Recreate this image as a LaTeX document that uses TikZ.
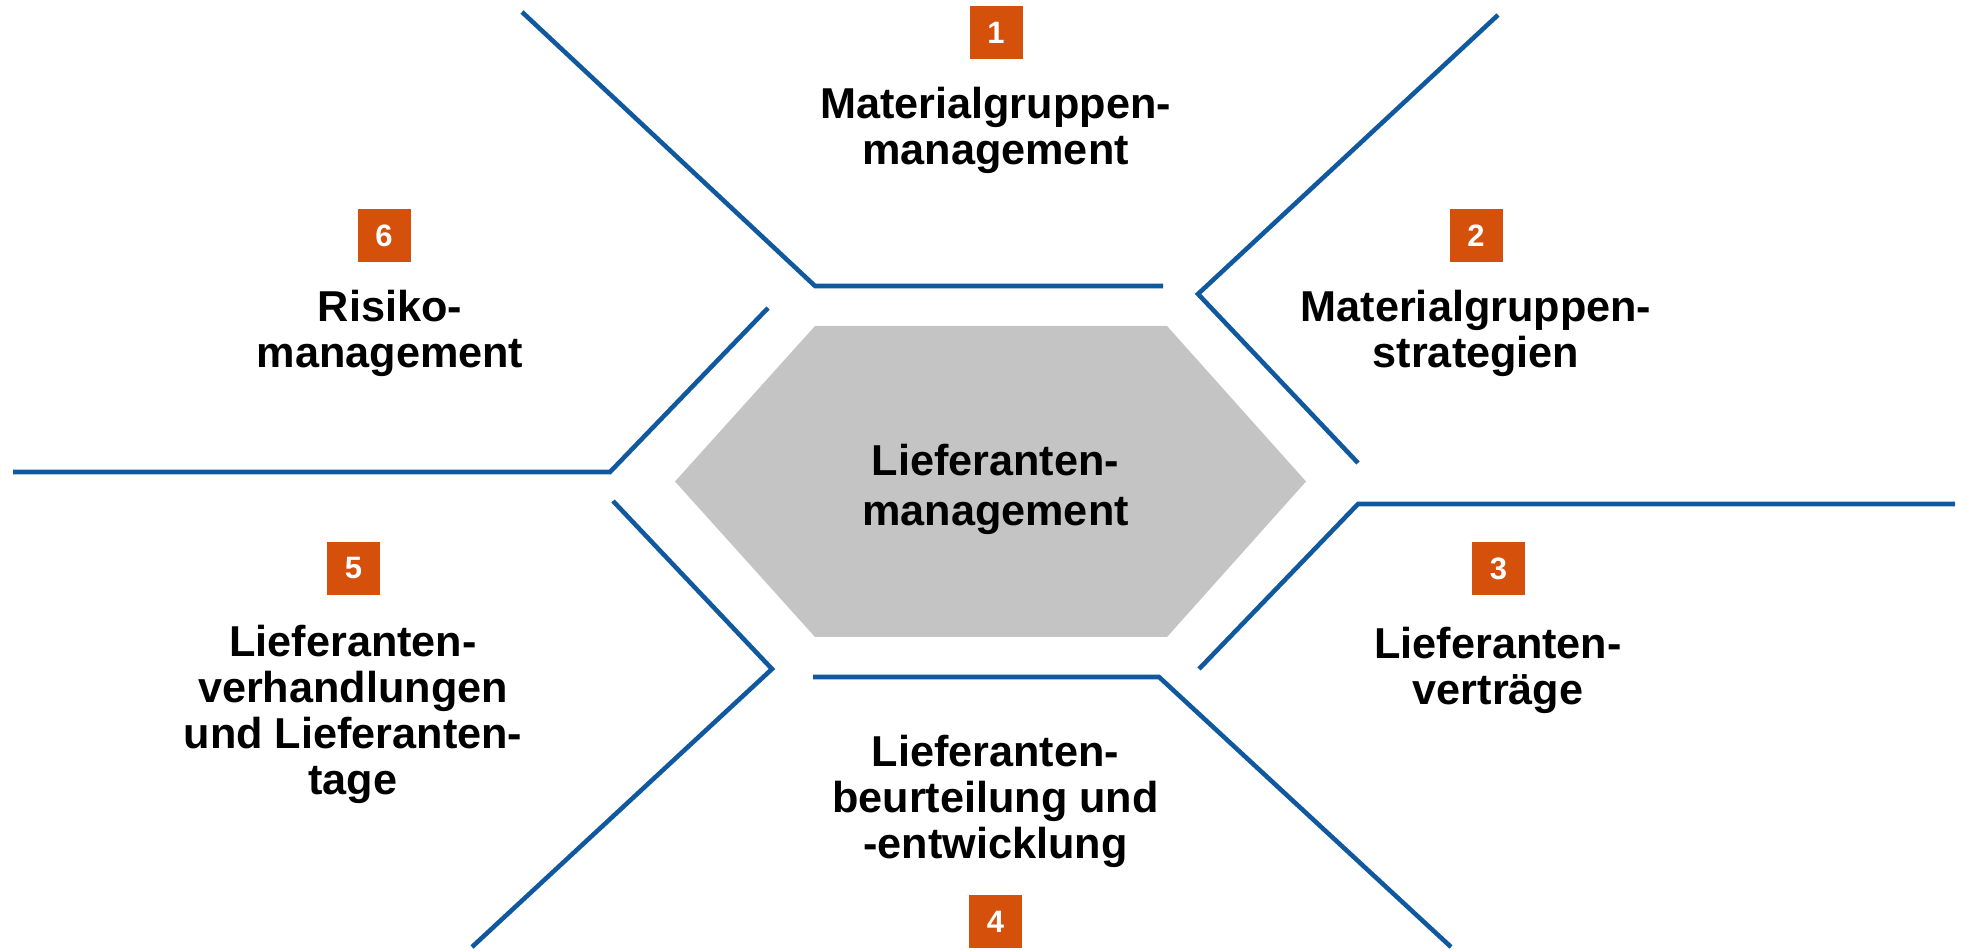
\documentclass[tikz,border=0pt]{standalone}
\usepackage{fontspec}
\setmainfont{Liberation Sans}
\usepackage{xcolor}
\usepackage{tikz}

\definecolor{lineblue}{RGB}{17,89,158}
\definecolor{numorange}{RGB}{213,80,10}
\definecolor{hexgray}{RGB}{196,196,196}

\begin{document}
\begin{tikzpicture}[
    num/.style={shape=rectangle, fill=numorange, text=white, minimum size=0.53cm, inner sep=0pt, font=\bfseries\fontsize{8.8}{10}\selectfont},
    topic/.style={align=center, font=\bfseries\fontsize{12.3}{13.1}\selectfont},
    edge/.style={lineblue, line width=1.3pt}]
    \useasboundingbox (0,0) rectangle (19.61,9.5);

    % centre hexagon
    \fill[hexgray] (6.75,4.685) -- (8.15,6.24) -- (11.67,6.24) -- (13.06,4.685) -- (11.67,3.13) -- (8.15,3.13) -- cycle;
    \node[topic, font=\bfseries\fontsize{12.3}{14.2}\selectfont] (core) at (9.955,4.61) {Lieferanten-\\management};

    % outer frame
    \draw[edge] (5.22,9.38) -- (8.15,6.64) -- (11.63,6.64);
    \draw[edge] (14.98,9.35) -- (11.98,6.56) -- (13.58,4.87);
    \draw[edge] (19.55,4.46) -- (13.58,4.46) -- (11.99,2.81);
    \draw[edge] (8.13,2.73) -- (11.59,2.73) -- (14.51,0.03);
    \draw[edge] (4.72,0.03) -- (7.72,2.81) -- (6.13,4.49);
    \draw[edge] (0.13,4.78) -- (6.10,4.78) -- (7.68,6.42);

    \node[num] (n1) at (9.96,9.175) {1};
    \node[num] (n2) at (14.76,7.145) {2};
    \node[num] (n3) at (14.985,3.815) {3};
    \node[num] (n4) at (9.955,0.285) {4};
    \node[num] (n5) at (3.535,3.815) {5};
    \node[num] (n6) at (3.84,7.145) {6};

    \node[topic] (t1) at (9.955,8.20) {Materialgruppen-\\management};
    \node[topic] (t2) at (14.76,6.17) {Materialgruppen-\\strategien};
    \node[topic] (t3) at (14.98,2.80) {Lieferanten-\\verträge};
    \node[topic] (t4) at (9.955,1.49) {Lieferanten-\\beurteilung und\\-entwicklung};
    \node[topic] (t5) at (3.53,2.36) {Lieferanten-\\verhandlungen\\und Lieferanten-\\tage};
    \node[topic] (t6) at (3.90,6.17) {Risiko-\\management};
\end{tikzpicture}
\end{document}
